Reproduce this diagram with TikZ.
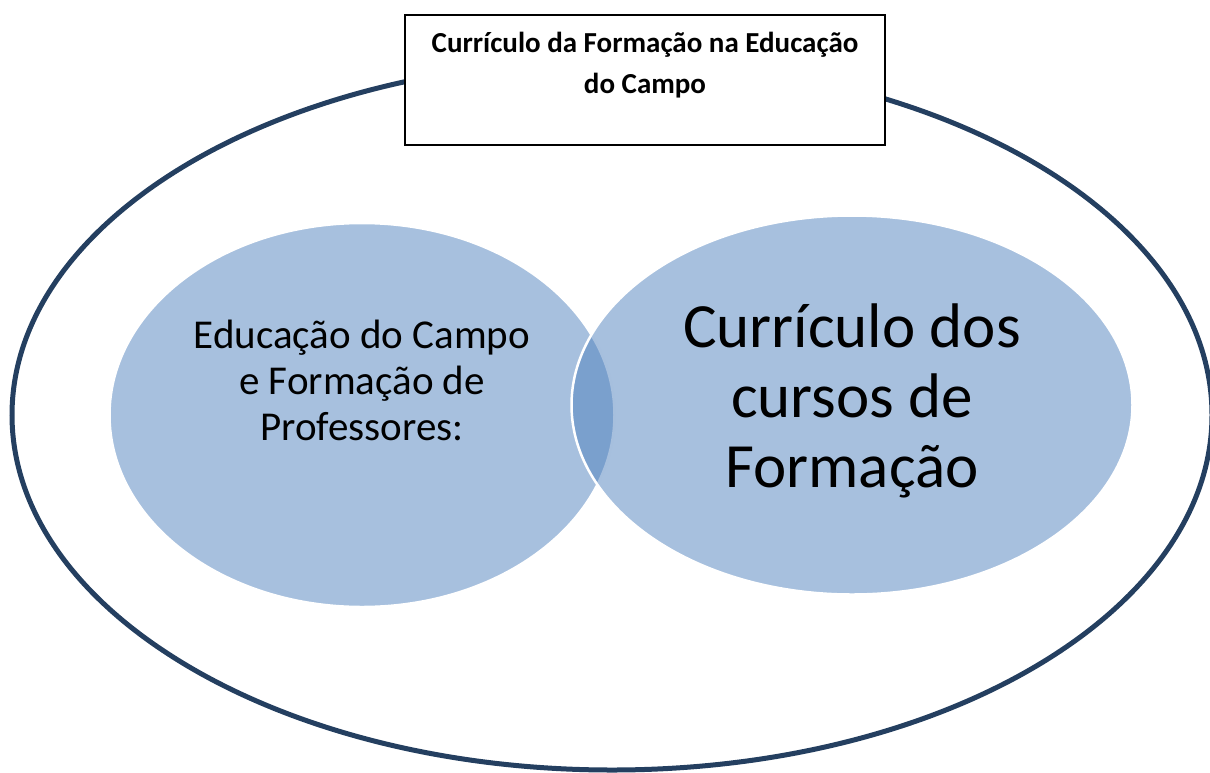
\documentclass[tikz,border=0pt]{standalone}
\usepackage{fontspec}
\setmainfont{Carlito}
\usepackage{xcolor}
\usepackage{tikz}
\usetikzlibrary{positioning, shapes.geometric}

\definecolor{navyline}{HTML}{243F60}
\definecolor{bubblefill}{HTML}{4F81BD}

\tikzset{
  bubble/.style={ellipse, draw=white, line width=2.5pt, fill=bubblefill, fill opacity=0.5, text opacity=1, inner sep=0pt},
  bubbletext/.style={align=center, inner sep=0pt, text=black}
}

\begin{document}
\begin{tikzpicture}[x=1pt, y=-1pt, thick]
    \useasboundingbox (0,0) rectangle (1210,772);

    % Define the shapes
    \node[draw=navyline, line width=5pt, ellipse, minimum width=1200pt, minimum height=710pt] (outer) at (612,415) {};
    \node[bubble, minimum width=505pt, minimum height=384pt] (left) at (362,415) {};
    \node[bubble, minimum width=561pt, minimum height=379pt] (right) at (852,405) {};
    \node[draw, fill=white, line width=1.5pt, minimum width=480pt, minimum height=130pt] (title) at (645,80) {};

    % Define the texts
    \node[bubbletext, below=17pt of title.north, font=\fontsize{29}{41}\selectfont\bfseries] (titletxt) {Currículo da Formação na Educação\\do Campo};
    \node[bubbletext, font=\fontsize{41}{46}\selectfont] (lefttxt) at ([yshift=35pt]left.center) {Educação do Campo\\e Formação de\\Professores:};
    \node[bubbletext, font=\fontsize{63}{70}\selectfont] (righttxt) at ([yshift=4pt]right.center) {Currículo dos\\cursos de\\Formação};

\end{tikzpicture}
\end{document}
